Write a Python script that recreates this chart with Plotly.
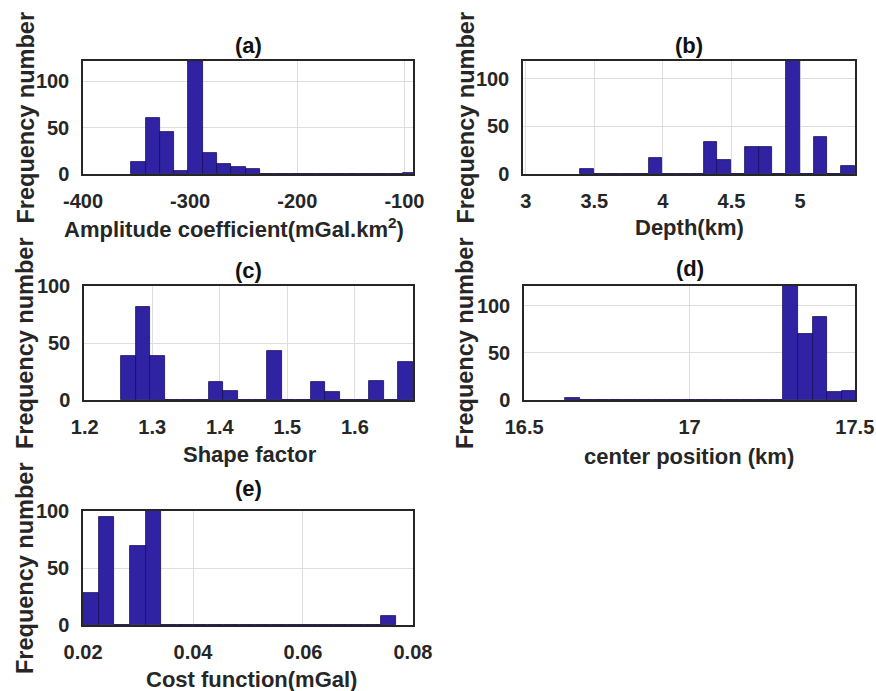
import plotly.graph_objects as go

# Histogram bins: first edge, bin width, counts per bin (20 bins each)
amp_start, amp_width = -355.0, 13.35
amp_counts = [13, 60, 45, 3, 122, 23, 11, 8, 5, 0, 0, 0, 0, 0, 0, 0, 0, 0, 0, 1]

depth_start, depth_width = 3.394, 0.1003
depth_counts = [5, 0, 0, 0, 0, 17, 0, 0, 0, 34, 15, 0, 28, 28, 0, 119, 0, 39, 0, 8]

shape_start, shape_width = 1.254, 0.0216
shape_counts = [39, 82, 39, 0, 0, 0, 16, 8, 0, 0, 43, 0, 0, 16, 7, 0, 0, 17, 0, 33]

center_start, center_width = 16.624, 0.044
center_counts = [2, 0, 0, 0, 0, 0, 0, 0, 0, 0, 0, 0, 0, 0, 0, 122, 70, 88, 9, 10]

cost_start, cost_width = 0.02, 0.00285
cost_counts = [28, 95, 0, 69, 101, 0, 0, 0, 0, 0, 0, 0, 0, 0, 0, 0, 0, 0, 0, 8]

panel_titles = ["(a)", "(b)", "(c)", "(d)", "(e)"]
x_titles = ["Amplitude coefficient(mGal.km<sup>2</sup>)", "Depth(km)", "Shape factor",
            "center position (km)", "Cost function(mGal)"]
y_title = "Frequency number"

x_ticks = [[-400, -300, -200, -100], [3, 3.5, 4, 4.5, 5], [1.2, 1.3, 1.4, 1.5, 1.6],
           [16.5, 17, 17.5], [0.02, 0.04, 0.06, 0.08]]
x_ticktext = [["-400", "-300", "-200", "-100"], ["3", "3.5", "4", "4.5", "5"],
              ["1.2", "1.3", "1.4", "1.5", "1.6"], ["16.5", "17", "17.5"],
              ["0.02", "0.04", "0.06", "0.08"]]
x_ranges = [[-400, -92], [2.98, 5.4], [1.199, 1.686], [16.4995, 17.5005], [0.01999, 0.08001]]
y_ranges = [[0, 121.5], [0, 118.4], [0, 100.05], [0, 121], [0, 100.05]]
y_ticks = [0, 50, 100]

W, H = 876, 691
# Plot boxes in pixels: (left, right, top, bottom)
boxes = [(83, 413, 61, 174), (523, 855, 61, 174), (84, 413, 286, 400),
         (524, 855, 286, 400), (83, 413, 511, 625)]
title_y = [45, 45, 270, 269, 488]
xtitle_x = [234, 689, 250, 689, 251]
xtitle_y = [228, 227, 454, 457, 679]
ytitle_x = [25, 465, 25, 465, 25]

bins = [(amp_start, amp_width, amp_counts), (depth_start, depth_width, depth_counts),
        (shape_start, shape_width, shape_counts), (center_start, center_width, center_counts),
        (cost_start, cost_width, cost_counts)]

FONT = "Liberation Sans, Arial, sans-serif"
BAR = "#2f23a3"
EDGE = "#140c5c"
TXT = "#262626"

fig = go.Figure()
annotations = []
layout = {}
for i, (start, width, counts) in enumerate(bins):
    n = i + 1
    sfx = "" if n == 1 else str(n)
    centers = [start + width * (k + 0.5) for k in range(len(counts))]
    fig.add_trace(go.Bar(x=centers, y=counts, width=[width] * len(counts),
                         marker=dict(color=BAR, line=dict(color=EDGE, width=0.8)),
                         xaxis="x" + sfx, yaxis="y" + sfx, showlegend=False,
                         cliponaxis=True))
    l, r, t, b = boxes[i]
    layout["xaxis" + sfx] = dict(
        domain=[l / W, r / W], anchor="y" + sfx, range=x_ranges[i], automargin=False,
        tickmode="array", tickvals=x_ticks[i], ticktext=x_ticktext[i],
        showgrid=True, gridcolor="#dedede", gridwidth=1, zeroline=False,
        showline=True, mirror=True, linecolor=TXT, linewidth=1.5,
        ticks="", ticklabelstandoff=8,
        tickfont=dict(family=FONT, size=20, color=TXT, weight="bold"))
    layout["yaxis" + sfx] = dict(
        domain=[1 - b / H, 1 - t / H], anchor="x" + sfx, range=y_ranges[i], automargin=False,
        tickmode="array", tickvals=y_ticks,
        showgrid=True, gridcolor="#dedede", gridwidth=1, zeroline=False,
        showline=True, mirror=True, linecolor=TXT, linewidth=1.5,
        ticks="", ticklabelstandoff=8,
        tickfont=dict(family=FONT, size=20, color=TXT, weight="bold"))
    cx = (l + r) / 2
    annotations.append(dict(text="<b>%s</b>" % panel_titles[i], x=cx / W, y=1 - title_y[i] / H,
                            xref="paper", yref="paper", showarrow=False,
                            xanchor="center", yanchor="middle",
                            font=dict(family=FONT, size=22, color="#111111")))
    annotations.append(dict(text="<b>%s</b>" % x_titles[i], x=xtitle_x[i] / W,
                            y=1 - xtitle_y[i] / H,
                            xref="paper", yref="paper", showarrow=False,
                            xanchor="center", yanchor="middle",
                            font=dict(family=FONT, size=22, color=TXT)))
    annotations.append(dict(text="<b>%s</b>" % y_title, x=ytitle_x[i] / W,
                            y=1 - ((t + b) / 2) / H, xref="paper", yref="paper",
                            showarrow=False, textangle=-90,
                            xanchor="center", yanchor="middle",
                            font=dict(family=FONT, size=23.5, color=TXT)))

fig.update_layout(width=W, height=H, margin=dict(l=0, r=0, t=0, b=0),
                  paper_bgcolor="white", plot_bgcolor="white",
                  bargap=0, annotations=annotations, **layout)
fig.write_html("out.html")
